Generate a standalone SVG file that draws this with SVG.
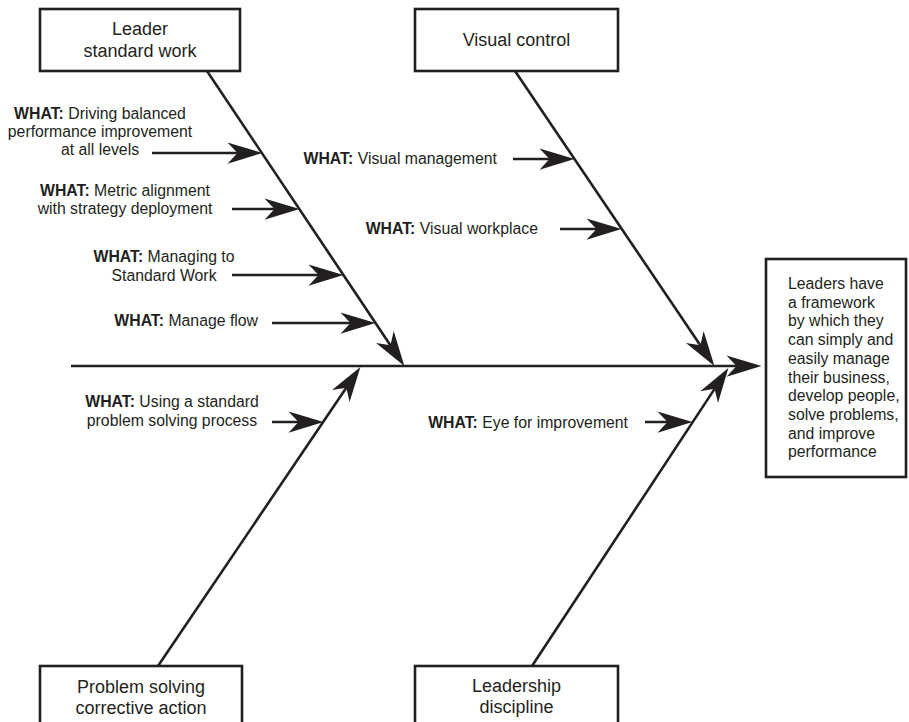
<svg xmlns="http://www.w3.org/2000/svg" width="909" height="722" viewBox="0 0 909 722">
<style>
.box{fill:#fff;stroke:#231f20;stroke-width:2.6}
.ln{fill:none;stroke:#231f20;stroke-width:2.6}
.t{font-family:"Liberation Sans",Arial,sans-serif;font-size:18px;fill:#231f20;text-anchor:middle}
.w{font-family:"Liberation Sans",Arial,sans-serif;font-size:15.8px;fill:#231f20}
.m{text-anchor:middle}
.e{text-anchor:end}
.b{font-weight:bold}
</style>
<defs>
<marker id="ah" markerUnits="userSpaceOnUse" orient="auto" refX="0" refY="0" markerWidth="40" markerHeight="30" viewBox="-20 -10 32 20" overflow="visible">
<path d="M10,0 L-18,-8.5 L-10,0 L-18,8.5 Z" fill="#231f20"/>
</marker>
</defs>
<rect width="909" height="722" fill="#fff"/>
<g id="connectors">
<line class="ln" x1="207" y1="71" x2="397.4" y2="355.7" marker-end="url(#ah)"/>
<line class="ln" x1="515" y1="71" x2="707.4" y2="355.7" marker-end="url(#ah)"/>
<line class="ln" x1="158" y1="666" x2="353.4" y2="377.3" marker-end="url(#ah)"/>
<line class="ln" x1="532" y1="666" x2="721.5" y2="378.4" marker-end="url(#ah)"/>
<line class="ln" x1="71" y1="366" x2="749" y2="366" marker-end="url(#ah)"/>
<line class="ln" x1="152" y1="153" x2="250" y2="153" marker-end="url(#ah)"/>
<line class="ln" x1="232" y1="209" x2="287" y2="209" marker-end="url(#ah)"/>
<line class="ln" x1="232" y1="275" x2="331" y2="275" marker-end="url(#ah)"/>
<line class="ln" x1="272" y1="323" x2="363" y2="323" marker-end="url(#ah)"/>
<line class="ln" x1="513" y1="159" x2="562" y2="159" marker-end="url(#ah)"/>
<line class="ln" x1="560" y1="229" x2="609" y2="229" marker-end="url(#ah)"/>
<line class="ln" x1="272" y1="422" x2="311" y2="422" marker-end="url(#ah)"/>
<line class="ln" x1="645" y1="422" x2="680" y2="422" marker-end="url(#ah)"/>
</g>
<g id="leader-standard-work">
<rect class="box" x="40" y="9" width="200" height="62"/>
<text class="t" x="140" y="35">Leader</text>
<text class="t" x="140" y="57">standard work</text>
</g>
<g id="visual-control">
<rect class="box" x="415" y="9" width="203" height="62"/>
<text class="t" x="516.5" y="46">Visual control</text>
</g>
<g id="problem-solving">
<rect class="box" x="40" y="666" width="202" height="70"/>
<text class="t" x="141" y="693">Problem solving</text>
<text class="t" x="141" y="714">corrective action</text>
</g>
<g id="leadership-discipline">
<rect class="box" x="415" y="666" width="203" height="70"/>
<text class="t" x="516.5" y="692">Leadership</text>
<text class="t" x="516.5" y="713">discipline</text>
</g>
<g id="outcome">
<rect class="box" x="766" y="259" width="140" height="218"/>
<text class="w" x="788" y="289">Leaders have</text>
<text class="w" x="788" y="307.7">a framework</text>
<text class="w" x="788" y="326.4">by which they</text>
<text class="w" x="788" y="345.1">can simply and</text>
<text class="w" x="788" y="363.8">easily manage</text>
<text class="w" x="788" y="382.5">their business,</text>
<text class="w" x="788" y="401.2">develop people,</text>
<text class="w" x="788" y="419.9">solve problems,</text>
<text class="w" x="788" y="438.6">and improve</text>
<text class="w" x="788" y="457.3">performance</text>
</g>
<g id="what-driving">
<text class="w m" x="100" y="119"><tspan class="b">WHAT:</tspan> Driving balanced</text>
<text class="w m" x="100" y="137">performance improvement</text>
<text class="w m" x="100" y="155">at all levels</text>
</g>
<g id="what-metric">
<text class="w m" x="125" y="195.5"><tspan class="b">WHAT:</tspan> Metric alignment</text>
<text class="w m" x="125" y="213.5">with strategy deployment</text>
</g>
<g id="what-managing">
<text class="w m" x="164" y="262"><tspan class="b">WHAT:</tspan> Managing to</text>
<text class="w m" x="164" y="280.5">Standard Work</text>
</g>
<g id="what-flow">
<text class="w e" x="258" y="326"><tspan class="b">WHAT:</tspan> Manage flow</text>
</g>
<g id="what-using">
<text class="w m" x="172" y="406.5"><tspan class="b">WHAT:</tspan> Using a standard</text>
<text class="w m" x="172" y="425.5">problem solving process</text>
</g>
<g id="what-visual-management">
<text class="w e" x="497" y="164"><tspan class="b">WHAT:</tspan> Visual management</text>
</g>
<g id="what-visual-workplace">
<text class="w e" x="538" y="234"><tspan class="b">WHAT:</tspan> Visual workplace</text>
</g>
<g id="what-eye">
<text class="w e" x="628" y="428"><tspan class="b">WHAT:</tspan> Eye for improvement</text>
</g>
</svg>
